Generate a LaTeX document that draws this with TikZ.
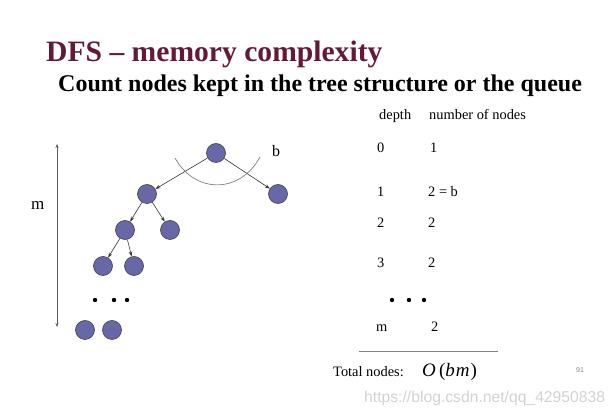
\documentclass[tikz,border=0pt]{standalone}
\usepackage{fontspec}
\setmainfont{Liberation Serif}
\setsansfont{Liberation Sans}
\usetikzlibrary{arrows.meta}
\definecolor{titlered}{RGB}{100,25,55}
\definecolor{nodeblue}{RGB}{104,104,168}
\tikzstyle{treenode} = [circle, minimum size=19pt, inner sep=0pt, fill=nodeblue, draw=black!75, line width=0.6pt]
\tikzstyle{tabtext} = [anchor=base west, inner sep=0pt, font=\fontsize{14.4}{16}\selectfont]
\tikzstyle{arrow} = [line width=0.6pt, black!80, -{Stealth[length=5pt,width=3.5pt]}]

\begin{document}
\begin{tikzpicture}[x=1pt, y=-1pt, node distance=36pt]
	\useasboundingbox (0,0) rectangle (616,411);

	% headings
	\node (title) [anchor=base west, inner sep=0pt, text=titlered, font=\fontsize{29.6}{32}\selectfont\bfseries] at (46,62) {DFS -- memory complexity};
	\node (subtitle) [anchor=base west, inner sep=0pt, font=\fontsize{24}{28}\selectfont\bfseries] at (58,92) {Count nodes kept in the tree structure or the queue};

	% tree
	\node (root) [treenode] at (216,153) {};
	\node (l1) [treenode, below of=root, xshift=-69pt, yshift=-5pt] {};
	\node (r1) [treenode, below of=root, xshift=62pt, yshift=-5pt] {};
	\node (l2) [treenode, below of=l1, xshift=-22pt] {};
	\node (r2) [treenode, below of=l1, xshift=23pt] {};
	\node (l3) [treenode, below of=l2, xshift=-22pt] {};
	\node (r3) [treenode, below of=l2, xshift=9pt] {};
	\node (bl) [treenode] at (85,330) {};
	\node (br) [treenode] at (112,330) {};

	\draw [arrow] (root) -- (l1);
	\draw [arrow] (root) -- (r1);
	\draw [arrow] (l1) -- (l2);
	\draw [arrow] (l1) -- (r2);
	\draw [arrow] (l2) -- (l3);
	\draw [arrow] (l2) -- (r3);

	\foreach \x in {95,114,127}
		\fill (\x,300) circle (2.2pt);

	\draw [gray, line width=0.7pt] (175,158) .. controls (195,194) and (240,194) .. (260,157);
	\node (b) [anchor=base west, inner sep=0pt, font=\fontsize{16}{18}\selectfont] at (272,157) {b};

	% depth range
	\coordinate (mtop) at (57,144);
	\coordinate (mbot) at (57,327);
	\draw [gray!70!black, line width=0.6pt, {Stealth[length=4pt,width=3pt]}-{Stealth[length=4pt,width=3pt]}] (mtop) -- (mbot);
	\node (m) [anchor=base west, inner sep=0pt, font=\fontsize{17}{18}\selectfont] at (31,210) {m};

	% table
	\node (hdepth) [tabtext] at (379,120) {depth};
	\node (hnum) [tabtext] at (429,120) {number of nodes};
	\node (d0) [tabtext] at (377,153) {0};
	\node (n0) [tabtext] at (430,153) {1};
	\node (d1) [tabtext] at (377,196.5) {1};
	\node (n1) [tabtext] at (428,196.5) {2 = b};
	\node (d2) [tabtext] at (377,228) {2};
	\node (n2) [tabtext] at (428,228) {2};
	\node (d3) [tabtext] at (377,267.5) {3};
	\node (n3) [tabtext] at (428,267.5) {2};
	\foreach \x in {392,409,424}
		\fill (\x,300) circle (2.2pt);
	\node (dm) [tabtext] at (376,331.5) {m};
	\node (nm) [tabtext] at (431,331.5) {2};

	\coordinate (rulel) at (359,351.5);
	\coordinate (ruler) at (498,351.5);
	\draw [gray, line width=0.9pt] (rulel) -- (ruler);

	\node (total) [tabtext] at (333,377) {Total nodes:};
	\node (obm) [anchor=base west, inner sep=0pt, font=\fontsize{19}{22}\selectfont] at (422,377) {\textit{O}\,(\textit{b\kern1pt m}\kern1pt)};

	\node (page) [anchor=center, inner sep=0pt, text=gray, font=\sffamily\fontsize{7}{8}\selectfont] at (580,370.5) {91};
	\node (url) [anchor=base west, inner sep=0pt, text=gray!35, font=\sffamily\fontsize{15.7}{18}\selectfont] at (364,403) {https://blog.csdn.net/qq\_42950838};
\end{tikzpicture}
\end{document}
